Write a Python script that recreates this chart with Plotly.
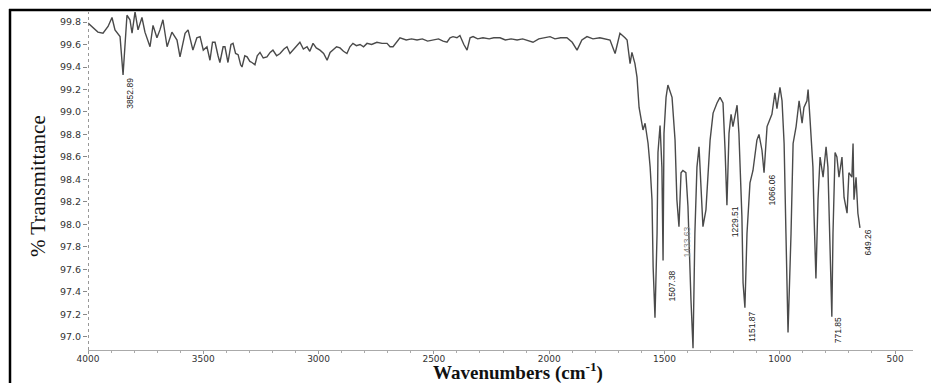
import plotly.graph_objects as go

# ---- data (wavenumber cm-1, % transmittance) ----
wavenumber = [
    4000, 3978, 3957, 3935, 3913, 3896, 3883, 3861, 3848, 3831, 3818, 3809, 3796, 3783, 3766,
    3753, 3731, 3718, 3701, 3688, 3675, 3657, 3636, 3614, 3601, 3579, 3566, 3545, 3528, 3514,
    3500, 3484, 3471, 3460, 3449, 3436, 3428, 3414, 3406, 3393, 3380, 3371, 3360, 3349, 3338,
    3332, 3320, 3310, 3298, 3289, 3276, 3266, 3254,
    3240, 3224, 3210, 3198, 3182, 3167, 3150, 3137, 3124, 3111, 3096, 3081, 3066, 3050, 3038,
    3024, 3010, 2994, 2978, 2963, 2950, 2937, 2922, 2907, 2892, 2877, 2864, 2851, 2836, 2820,
    2805, 2790, 2770, 2747, 2725, 2703, 2690, 2677, 2660, 2647, 2620, 2597, 2573, 2550, 2527,
    2504, 2480, 2460, 2443, 2430, 2417, 2400, 2387, 2370, 2356, 2343, 2330, 2310, 2287, 2260,
    2240, 2213, 2190, 2165, 2139, 2115, 2090, 2070, 2045, 2020, 1996, 1975, 1950, 1923, 1900,
    1879, 1858, 1836, 1810, 1780, 1758, 1736, 1714, 1693, 1671, 1662, 1649, 1641, 1628, 1619,
    1610, 1602, 1593, 1584, 1571, 1562, 1554, 1549, 1541, 1532, 1528, 1519, 1511, 1506, 1502,
    1493, 1485, 1467, 1454, 1446, 1437, 1428, 1420, 1407, 1398, 1385, 1376, 1368, 1359, 1350,
    1341, 1333, 1320, 1302, 1289, 1272, 1259, 1246, 1237, 1229, 1220, 1211, 1203, 1185, 1177,
    1164, 1159, 1151, 1142, 1129, 1116, 1099, 1090, 1077, 1068, 1055, 1034, 1021, 1012, 999,
    990, 981, 973, 964, 951, 942, 929, 916, 903, 895, 882, 877, 869, 856, 851,
    843, 834, 825, 812, 799, 791, 782, 774, 769, 760, 752, 743, 730, 721, 708,
    700, 687, 682, 678, 669, 661, 652,
]
transmittance = [
    99.79, 99.75, 99.71, 99.70, 99.76, 99.84, 99.73, 99.67, 99.33, 99.86, 99.82, 99.70, 99.89, 99.73, 99.84,
    99.71, 99.58, 99.77, 99.66, 99.73, 99.82, 99.58, 99.71, 99.64, 99.49, 99.70, 99.73, 99.55, 99.66, 99.67,
    99.55, 99.58, 99.46, 99.62, 99.62, 99.50, 99.44, 99.58, 99.58, 99.44, 99.60, 99.61, 99.52, 99.51, 99.42,
    99.40, 99.50, 99.49, 99.45, 99.44, 99.42, 99.50, 99.53,
    99.48, 99.49, 99.53, 99.55, 99.50, 99.52, 99.56, 99.58, 99.52, 99.55, 99.58, 99.62, 99.56, 99.58, 99.54,
    99.61, 99.57, 99.55, 99.52, 99.46, 99.53, 99.55, 99.58, 99.57, 99.54, 99.52, 99.58, 99.61, 99.59, 99.60,
    99.58, 99.61, 99.60, 99.62, 99.61, 99.61, 99.58, 99.58, 99.63, 99.66, 99.64, 99.65, 99.64, 99.65, 99.63,
    99.64, 99.65, 99.63, 99.62, 99.66, 99.67, 99.66, 99.68, 99.60, 99.55, 99.66, 99.67, 99.65, 99.66, 99.65,
    99.66, 99.66, 99.64, 99.65, 99.64, 99.65, 99.63, 99.62, 99.65, 99.66, 99.67, 99.65, 99.66, 99.66, 99.62,
    99.55, 99.64, 99.67, 99.65, 99.66, 99.65, 99.64, 99.52, 99.70, 99.66, 99.64, 99.43, 99.53, 99.43, 99.31,
    99.04, 98.93, 98.84, 98.90, 98.72, 98.51, 98.22, 97.62, 97.17, 97.92, 98.64, 98.88, 98.51, 97.68, 98.81,
    99.13, 99.24, 99.13, 98.75, 98.22, 97.98, 98.46, 98.48, 98.46, 98.16, 97.33, 96.90, 97.92, 98.51, 98.69,
    98.37, 97.98, 98.13, 98.75, 98.99, 99.08, 99.13, 99.08, 98.66, 98.17, 98.81, 98.98, 98.87, 99.06, 98.81,
    98.07, 97.48, 97.26, 97.92, 98.37, 98.48, 98.75, 98.80, 98.66, 98.46, 98.87, 98.98, 99.17, 99.03, 99.22,
    99.10, 98.72, 97.92, 97.04, 97.92, 98.72, 98.87, 99.10, 98.90, 99.04, 99.10, 99.20, 98.95, 98.51, 98.07,
    97.52, 98.22, 98.60, 98.42, 98.69, 98.51, 97.92, 97.18, 97.92, 98.64, 98.60, 98.42, 98.60, 98.24, 98.10,
    98.46, 98.42, 98.72, 98.22, 98.42, 98.10, 97.97,
]

# peak labels: text, x position (cm-1), y position (%T)
peak_labels = ["3852.89", "1507.38", "1433.63", "1229.51", "1151.87", "1066.06", "771.85", "649.26"]
peak_label_x = [3818, 1467, 1402, 1194, 1120, 1034, 747, 617]
peak_label_y = [99.17, 97.45, 97.84, 98.02, 97.09, 98.31, 97.06, 97.84]

y_ticks = [97.0, 97.2, 97.4, 97.6, 97.8, 98.0, 98.2, 98.4, 98.6, 98.8, 99.0, 99.2, 99.4, 99.6, 99.8]
x_ticks = [4000, 3500, 3000, 2500, 2000, 1500, 1000, 500]

W, H = 931, 383
ML, MR, MT, MB = 88, 18, 12, 33
PW, PH = W - ML - MR, H - MT - MB

fig = go.Figure()
fig.add_trace(go.Scatter(
    x=wavenumber, y=transmittance, mode="lines",
    line=dict(color="#4a4a4a", width=1.4),
    hoverinfo="skip", showlegend=False,
))

for t, px, py in zip(peak_labels, peak_label_x, peak_label_y):
    fig.add_annotation(
        x=px, y=py, xref="x", yref="y", text=t, showarrow=False, textangle=-90,
        xanchor="center", yanchor="middle",
        font=dict(family="Liberation Sans Narrow, Liberation Sans, Arial", size=8.5,
                  color="#888888" if t == "1433.63" else "#222222"),
    )

def paper_x(p):
    return (p - ML) / PW

def paper_y(p):
    return 1 - (p - MT) / PH

# axis titles
fig.add_annotation(
    x=paper_x(38), y=paper_y(186), xref="paper", yref="paper", text="% Transmittance",
    showarrow=False, textangle=-90, xanchor="center", yanchor="middle",
    font=dict(family="Liberation Serif, Times New Roman, serif", size=21, color="#111111"),
)
fig.add_annotation(
    x=paper_x(518), y=paper_y(371), xref="paper", yref="paper",
    text="<b>Wavenumbers (cm<sup>-1</sup>)</b>", showarrow=False,
    xanchor="center", yanchor="middle",
    font=dict(family="Liberation Serif, Times New Roman, serif", size=19, color="#111111"),
)

# outer frame (top and left)
fig.add_shape(type="line", xref="paper", yref="paper",
              x0=paper_x(9), x1=paper_x(W), y0=paper_y(10), y1=paper_y(10),
              line=dict(color="#000000", width=2.5))
fig.add_shape(type="line", xref="paper", yref="paper",
              x0=paper_x(10), x1=paper_x(10), y0=paper_y(9), y1=paper_y(H),
              line=dict(color="#000000", width=2.5))
# dotted y axis line
fig.add_shape(type="line", xref="x", yref="paper", x0=4000, x1=4000, y0=0, y1=1,
              line=dict(color="#777777", width=1.5, dash="dot"))

fig.update_layout(
    width=W, height=H,
    margin=dict(l=ML, r=MR, t=MT, b=MB, autoexpand=False),
    paper_bgcolor="white", plot_bgcolor="white",
    xaxis=dict(
        range=[4000, 422], tickvals=x_ticks, ticktext=[str(v) for v in x_ticks],
        showgrid=False, zeroline=False, showline=True, linecolor="#aaaaaa", linewidth=1,
        ticks="outside", ticklen=3, tickcolor="#999999",
        minor=dict(dtick=100, ticks="outside", ticklen=2, tickcolor="#aaaaaa"),
        tickfont=dict(family="DejaVu Sans, Verdana", size=9, color="#333333"),
        ticklabelstandoff=-3,
        automargin=False,
    ),
    yaxis=dict(
        range=[96.884, 99.889], tickvals=y_ticks, ticktext=[f"{v:.1f}" for v in y_ticks],
        showgrid=False, zeroline=False, showline=False,
        ticks="outside", ticklen=4, tickcolor="#888888",
        tickfont=dict(family="DejaVu Sans, Verdana", size=9.5, color="#333333"),
        automargin=False,
    ),
)

fig.write_html("out.html")
